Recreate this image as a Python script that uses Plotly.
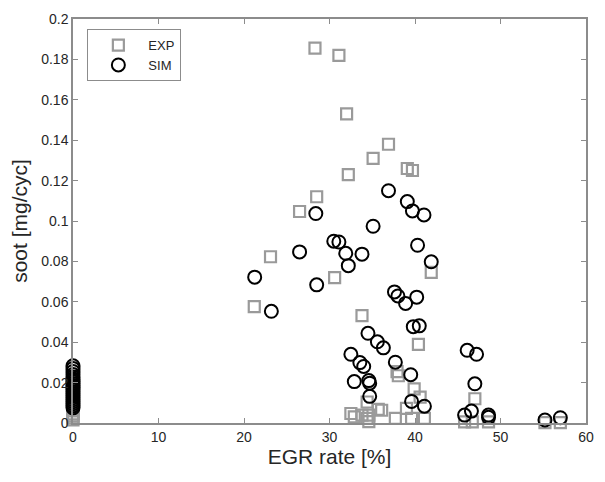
import plotly.graph_objects as go

# EXP (measured) soot vs EGR rate
exp_x = [28.3, 31.1, 32.0, 36.9, 35.1, 39.1, 39.7, 32.2, 28.5, 26.5, 23.1, 30.6, 41.9,
         21.2, 33.8, 40.4, 37.9, 38.05, 39.9, 40.6, 34.4, 47.0,
         32.5, 32.9, 33.8, 34.4, 34.6, 35.7, 36.1, 37.7, 39.0, 39.6, 41.1, 34.6,
         45.8, 46.7, 48.6, 55.2, 57.0,
         0, 0, 0, 0, 0, 0, 0, 0, 0, 0, 0, 0]
exp_y = [0.1856, 0.182, 0.153, 0.138, 0.131, 0.126, 0.125, 0.123, 0.112, 0.1047, 0.0823, 0.072, 0.0746,
         0.0576, 0.0532, 0.0389, 0.0254, 0.0234, 0.0169, 0.0128, 0.0104, 0.012,
         0.0047, 0.003, 0.0039, 0.0023, 0.0039, 0.0067, 0.0063, 0.0023, 0.0072, 0.0023, 0.0023, 0.0007,
         0.0006, 0.0006, 0.0006, 0.0002, 0.0002,
         0.0015, 0.0025, 0.0035, 0.0045, 0.006, 0.0075, 0.009, 0.011, 0.013, 0.015, 0.017, 0.019]

# SIM (simulated) soot vs EGR rate
sim_x = [36.9, 39.1, 39.7, 41.05, 28.4, 35.1, 30.5, 31.1, 31.9, 33.8, 32.2, 26.5, 40.3, 41.9,
         21.25, 28.5, 37.6, 38.0, 40.2, 38.9, 23.2,
         34.5, 35.6, 36.3, 32.5, 33.55, 34.0, 37.7, 39.5, 39.8, 40.5,
         32.9, 34.6, 34.7, 34.7, 39.6, 41.1,
         46.1, 47.2, 47.0, 45.8, 46.6, 48.6, 48.6, 55.2, 57.0,
         0, 0, 0, 0, 0, 0, 0, 0, 0, 0, 0, 0, 0, 0, 0, 0, 0, 0, 0, 0]
sim_y = [0.115, 0.1096, 0.105, 0.103, 0.1037, 0.0974, 0.090, 0.0896, 0.084, 0.0836, 0.0779, 0.0847, 0.088, 0.0798,
         0.0722, 0.0684, 0.0649, 0.0629, 0.0623, 0.0592, 0.0553,
         0.0444, 0.0402, 0.0372, 0.034, 0.0299, 0.028, 0.0301, 0.0239, 0.0477, 0.0481,
         0.0205, 0.021, 0.0197, 0.0132, 0.0107, 0.0083,
         0.036, 0.034, 0.0194, 0.0039, 0.0059, 0.0039, 0.0028, 0.0015, 0.0026,
         0.0075, 0.0085, 0.0095, 0.0105, 0.0115, 0.0125, 0.0135, 0.0145, 0.0155, 0.0165,
         0.0175, 0.0185, 0.0195, 0.0205, 0.0215, 0.0228, 0.024, 0.0255, 0.027, 0.0283]

x_ticks = [0, 10, 20, 30, 40, 50, 60]
y_ticks = [0, 0.02, 0.04, 0.06, 0.08, 0.1, 0.12, 0.14, 0.16, 0.18, 0.2]
y_ticktext = ["0", "0.02", "0.04", "0.06", "0.08", "0.1", "0.12", "0.14", "0.16", "0.18", "0.2"]

font_family = "Liberation Sans, Arial, sans-serif"
axis_col = "#8c8c8c"
text_col = "#262626"

fig = go.Figure()
fig.add_trace(go.Scatter(
    x=exp_x, y=exp_y, mode="markers", name="EXP", cliponaxis=False,
    marker=dict(symbol="square-open", size=11, color="#9a9a9a", line=dict(width=2.2, color="#9a9a9a")),
))
fig.add_trace(go.Scatter(
    x=sim_x, y=sim_y, mode="markers", name="SIM", cliponaxis=False,
    marker=dict(symbol="circle-open", size=13, color="#000000", line=dict(width=2, color="#000000")),
))

axis_common = dict(
    showgrid=False, zeroline=False, showline=True, linecolor=axis_col, linewidth=1.5,
    mirror="ticks", ticks="inside", ticklen=5, tickcolor=axis_col, tickwidth=1,
    tickfont=dict(family=font_family, size=14, color=text_col),
)

fig.update_layout(
    width=605, height=482,
    margin=dict(l=73, r=11, t=13, b=59),
    paper_bgcolor="white", plot_bgcolor="white",
    font=dict(family=font_family, color=text_col),
    xaxis=dict(range=[0, 60], tickvals=x_ticks,
               title=dict(text="EGR rate [%]", font=dict(family=font_family, size=21, color=text_col), standoff=6),
               **axis_common),
    yaxis=dict(range=[0, 0.2], tickvals=y_ticks, ticktext=y_ticktext,
               title=dict(text="soot [mg/cyc]", font=dict(family=font_family, size=21, color=text_col), standoff=8),
               **axis_common),
    legend=dict(x=0.028, y=0.975, xanchor="left", yanchor="top",
                bgcolor="white", bordercolor=axis_col, borderwidth=1,
                font=dict(family=font_family, size=13, color=text_col),
                itemwidth=50, tracegroupgap=0),
    showlegend=True,
)

fig.write_html("out.html")
